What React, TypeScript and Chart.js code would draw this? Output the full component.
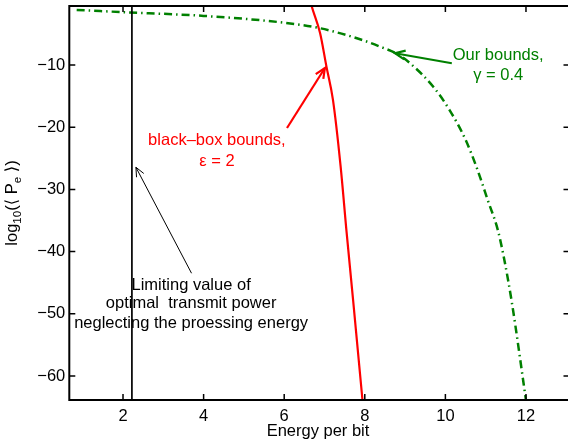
import React, { useEffect, useRef } from "react";
import { Chart, registerables } from "chart.js";

Chart.register(...registerables);

// ---- data ----
const xTicks = [2, 4, 6, 8, 10, 12];
const yTicks = [-60, -50, -40, -30, -20, -10];
const xMin = 0.667;
const xMax = 13.08;
const yMin = -63.86;
const yMax = -0.51;

const ourBoundsX = [0.85, 2, 4, 6, 6.9, 7.9, 8.4, 8.8, 9.12, 9.7, 10.1, 10.5, 10.8, 11.05, 11.3, 11.45, 11.65, 12.0];
const ourBoundsY = [-1.15, -1.5, -2.1, -3.2, -4.1, -5.9, -7.1, -8.2, -9.7, -13.5, -17.2, -22, -26.9, -31.7, -36.5, -40.9, -48.2, -63.9];

const blackBoxX = [6.62, 6.68, 6.89, 7.05, 7.21, 7.4, 7.55, 7.71, 7.94, 7.98];
const blackBoxY = [1.0, -0.51, -4.85, -10.3, -15.6, -26.3, -37.0, -47.8, -63.7, -66.5];

const limitX = [2.22, 2.22];
const limitY = [5, -70];

// annotation anchors (data coordinates)
const greenArrowFrom = [10.16, -9.72];
const greenArrowTo = [8.75, -8.11];
const greenText = ["Our bounds,", "\u03b3 = 0.4"];
const greenTextAt = [11.31, -9.19, -12.41]; // x, baseline y line1, line2

const redArrowFrom = [6.07, -20.12];
const redArrowTo = [7.01, -10.48];
const redText = ["black\u2013box bounds,", "\u03b5 = 2"];
const redTextAt = [4.33, -22.86, -26.19];

const blackArrowFrom = [3.7, -43.48];
const blackArrowTo = [2.32, -26.44];
const blackText = ["Limiting value of", "optimal  transmit power", "neglecting the proessing energy"];
const blackTextAt = [3.69, -46.17, -49.11, -52.23];

const FONT = "'Liberation Sans', Arial, Helvetica, sans-serif";
const FS = 16.5;

function toPts(xs: number[], ys: number[]) {
  return xs.map((x, i) => ({ x, y: ys[i] }));
}

function fmt(v: number) {
  return v < 0 ? "\u2212" + String(Math.abs(v)) : String(v);
}

function drawArrow(ctx: CanvasRenderingContext2D, x1: number, y1: number, x2: number, y2: number, color: string, w: number, head: number) {
  const ang = Math.atan2(y2 - y1, x2 - x1);
  ctx.save();
  ctx.strokeStyle = color;
  ctx.lineWidth = w;
  ctx.lineCap = "butt";
  ctx.beginPath();
  ctx.moveTo(x1, y1);
  ctx.lineTo(x2, y2);
  ctx.stroke();
  const a = 0.42;
  ctx.beginPath();
  ctx.moveTo(x2 - head * Math.cos(ang - a), y2 - head * Math.sin(ang - a));
  ctx.lineTo(x2, y2);
  ctx.lineTo(x2 - head * Math.cos(ang + a), y2 - head * Math.sin(ang + a));
  ctx.stroke();
  ctx.restore();
}

const decorPlugin = {
  id: "decor",
  afterDraw(chart: any) {
    const ctx: CanvasRenderingContext2D = chart.ctx;
    const xs = chart.scales.x;
    const ys = chart.scales.y;
    const { left, right, top, bottom } = chart.chartArea;
    ctx.save();
    // box
    ctx.strokeStyle = "#000";
    ctx.lineWidth = 2;
    ctx.strokeRect(left, top, right - left, bottom - top);
    // inward ticks
    ctx.lineWidth = 1.5;
    const tl = 6;
    ctx.beginPath();
    xTicks.forEach((v) => {
      const px = xs.getPixelForValue(v);
      ctx.moveTo(px, bottom);
      ctx.lineTo(px, bottom - tl);
      ctx.moveTo(px, top);
      ctx.lineTo(px, top + tl);
    });
    yTicks.forEach((v) => {
      const py = ys.getPixelForValue(v);
      ctx.moveTo(left, py);
      ctx.lineTo(left + tl, py);
      ctx.moveTo(right, py);
      ctx.lineTo(right - tl, py);
    });
    ctx.stroke();

    // tick labels
    ctx.fillStyle = "#000";
    ctx.font = `${FS}px ${FONT}`;
    ctx.textAlign = "center";
    ctx.textBaseline = "alphabetic";
    xTicks.forEach((v) => {
      ctx.fillText(fmt(v), xs.getPixelForValue(v), bottom + 20.5);
    });
    ctx.textAlign = "right";
    ctx.textBaseline = "middle";
    yTicks.forEach((v) => {
      ctx.fillText(fmt(v), left - 4, ys.getPixelForValue(v));
    });

    const P = (p: number[]) => [xs.getPixelForValue(p[0]), ys.getPixelForValue(p[1])];

    // arrows
    let a = P(greenArrowFrom), b = P(greenArrowTo);
    drawArrow(ctx, a[0], a[1], b[0], b[1], "#008000", 2.2, 11);
    a = P(redArrowFrom); b = P(redArrowTo);
    drawArrow(ctx, a[0], a[1], b[0], b[1], "#ff0000", 2.2, 11);
    a = P(blackArrowFrom); b = P(blackArrowTo);
    drawArrow(ctx, a[0], a[1], b[0], b[1], "#000", 1, 10);

    // texts
    ctx.font = `${FS}px ${FONT}`;
    ctx.textAlign = "center";
    ctx.textBaseline = "alphabetic";
    const texts = (lines: string[], at: number[], color: string) => {
      ctx.fillStyle = color;
      const cx = xs.getPixelForValue(at[0]);
      lines.forEach((s, i) => ctx.fillText(s, cx, ys.getPixelForValue(at[i + 1])));
    };
    texts(greenText, greenTextAt, "#008000");
    texts(redText, redTextAt, "#ff0000");
    texts(blackText, blackTextAt, "#000");

    // x title
    ctx.fillStyle = "#000";
    ctx.fillText("Energy per bit", 318, 436);

    // y title with subscripts, rotated
    const parts: [string, boolean][] = [
      ["log", false],
      ["10", true],
      ["(\u27e8 P", false],
      ["e", true],
      [" \u27e9)", false],
    ];
    const big = `${FS}px ${FONT}, 'DejaVu Sans'`;
    const small = `${FS * 0.7}px ${FONT}, 'DejaVu Sans'`;
    let total = 0;
    const widths = parts.map(([s, sub]) => {
      ctx.font = sub ? small : big;
      const w = ctx.measureText(s).width;
      total += w;
      return w;
    });
    ctx.translate(17, 203);
    ctx.rotate(-Math.PI / 2);
    ctx.textAlign = "left";
    let xx = -total / 2;
    parts.forEach(([s, sub], i) => {
      ctx.font = sub ? small : big;
      ctx.fillText(s, xx, sub ? 4 : 0);
      xx += widths[i];
    });
    ctx.restore();
  },
};

export default function App() {
  const ref = useRef<HTMLCanvasElement | null>(null);
  useEffect(() => {
    if (!ref.current) return;
    const chart = new Chart(ref.current, {
      type: "line",
      data: {
        datasets: [
          {
            data: toPts(limitX, limitY),
            borderColor: "#000",
            borderWidth: 1,
            pointRadius: 0,
          },
          {
            data: toPts(ourBoundsX, ourBoundsY),
            borderColor: "#008000",
            borderWidth: 2.5,
            borderDash: [8, 4, 1.5, 4],
            pointRadius: 0,
            cubicInterpolationMode: "monotone",
          },
          {
            data: toPts(blackBoxX, blackBoxY),
            borderColor: "#ff0000",
            borderWidth: 2.2,
            pointRadius: 0,
            cubicInterpolationMode: "monotone",
          },
        ],
      },
      options: {
        responsive: false,
        animation: false,
        events: [],
        layout: { padding: { top: 6, right: 10.5, left: 0, bottom: 0 } },
        plugins: { legend: { display: false }, tooltip: { enabled: false } },
        scales: {
          x: {
            type: "linear",
            min: xMin,
            max: xMax,
            grid: { display: false },
            border: { display: false },
            afterBuildTicks: (s: any) => {
              s.ticks = xTicks.map((v) => ({ value: v }));
            },
            afterFit: (s: any) => {
              s.height = 42;
              s.paddingLeft = 0;
              s.paddingRight = 0;
            },
            ticks: { display: false },
          },
          y: {
            type: "linear",
            min: yMin,
            max: yMax,
            grid: { display: false },
            border: { display: false },
            afterBuildTicks: (s: any) => {
              s.ticks = yTicks.map((v) => ({ value: v }));
            },
            afterFit: (s: any) => {
              s.width = 69.3;
              s.paddingTop = 0;
              s.paddingBottom = 0;
            },
            ticks: { display: false },
          },
        },
      },
      plugins: [decorPlugin],
    });
    return () => chart.destroy();
  }, []);
  return (
    <div style={{ position: "fixed", left: 0, top: 0, width: 568, height: 442, overflow: "hidden", background: "#fff" }}>
      <canvas ref={ref} width={580} height={442} style={{ display: "block" }} />
    </div>
  );
}
